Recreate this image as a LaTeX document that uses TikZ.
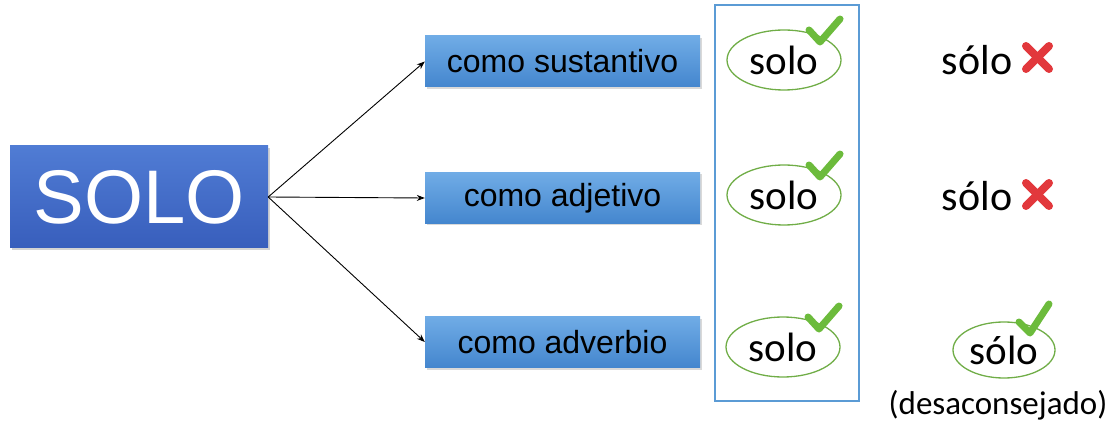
\documentclass[tikz,border=0pt]{standalone}
\usepackage{fontspec}
\setmainfont{Liberation Sans}
\newfontfamily\carlitofont{Carlito}
\usetikzlibrary{arrows.meta,shapes.geometric,shadows}
\definecolor{bigtop}{RGB}{80,124,212}
\definecolor{bigbot}{RGB}{56,94,188}
\definecolor{smalltop}{RGB}{112,172,230}
\definecolor{smallbot}{RGB}{68,134,206}
\definecolor{frameblue}{RGB}{91,155,213}
\definecolor{okgreen}{RGB}{112,173,71}
\definecolor{tickgreen}{RGB}{108,187,60}
\definecolor{xred}{RGB}{226,56,60}
\begin{document}
\begin{tikzpicture}[x=1pt,y=-1pt,
  bigbox/.style={rectangle, top color=bigtop, bottom color=bigbot, draw=none,
    minimum width=258pt, minimum height=102pt, inner sep=0pt, text=white,
    font=\fontsize{76}{80}\selectfont,
    drop shadow={opacity=0.35, shadow xshift=2pt, shadow yshift=-2pt}},
  usebox/.style={rectangle, top color=smalltop, bottom color=smallbot, draw=none,
    minimum width=275pt, minimum height=51pt, inner sep=0pt, text=black,
    font=\fontsize{32}{36}\selectfont,
    drop shadow={opacity=0.3, shadow xshift=2pt, shadow yshift=-2pt}},
  word/.style={ellipse, draw=okgreen, line width=1.3pt, minimum width=114pt,
    minimum height=60pt, inner sep=0pt, font=\carlitofont\fontsize{41}{45}\selectfont},
  plainword/.style={inner sep=0pt, font=\carlitofont\fontsize{42}{46}\selectfont},
  conn/.style={-{Stealth[length=8pt,width=6pt]}, line width=0.9pt},
  tick/.style={draw=tickgreen, line width=7pt, line join=round, line cap=round},
  cross/.style={draw=xred, line width=8pt, line cap=round}
]
\useasboundingbox (0,0) rectangle (1113,430);

\node[bigbox] (solo) at (139,197) {SOLO};
\node[usebox] (sust) at (562.5,61.5) {como sustantivo};
\node[usebox] (adj) at (562.5,198) {como adjetivo};
\node[usebox] (adv) at (562.5,342) {como adverbio};

\draw[conn] (solo.east) -- (sust.west);
\draw[conn] (solo.east) -- (adj.west);
\draw[conn] (solo.east) -- (adv.west);

\draw[frameblue, line width=1.5pt] (715,5) rectangle (859,401);

\node[word] (s1) at (784,60) {solo};
\node[word] (s2) at (784,195) {solo};
\node[word] (s3) at (783,347) {solo};

\draw[tick] (809,30) -- (820,42) -- (840,19);
\draw[tick] (809,165) -- (820,177) -- (840,154);
\draw[tick] (808,317) -- (819,329) -- (839,306);

\node[plainword] (a1) at (977,60) {sólo};
\node[plainword] (a2) at (977,196) {sólo};
\draw[cross] (1026,46) -- (1049,69);
\draw[cross] (1049,46) -- (1026,69);
\draw[cross] (1026,183) -- (1049,206);
\draw[cross] (1049,183) -- (1026,206);

\node[word, minimum width=102pt, minimum height=56pt] (a3) at (1004,350) {sólo};
\draw[tick] (1019,322) -- (1030,333) -- (1049,304);
\node[inner sep=0pt, font=\carlitofont\fontsize{33}{36}\selectfont] (des) at (998,405) {(desaconsejado)};
\end{tikzpicture}
\end{document}
